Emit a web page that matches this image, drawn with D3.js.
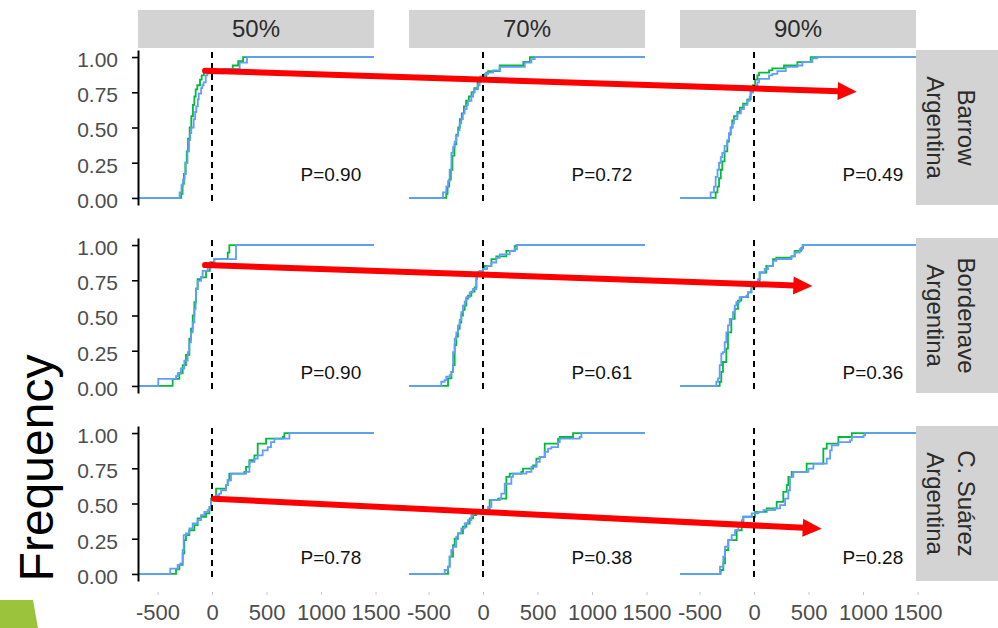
<!DOCTYPE html>
<html>
<head>
<meta charset="utf-8">
<script src="https://cdn.jsdelivr.net/npm/d3@7"></script>
<style>
  body { margin: 0; background: #fff; }
  svg { display: block; }
  text { font-family: "Liberation Sans", Arial, sans-serif; }
</style>
</head>
<body>
<svg id="chart" width="998" height="628"></svg>
<script>
// Facet labels
const thresholds = ["50%", "70%", "90%"];
const sites = [["Barrow", "Argentina"], ["Bordenave", "Argentina"], ["C. Suárez", "Argentina"]];

// Test p-values per site (rows) and threshold (columns)
const pValues = [[0.90, 0.72, 0.49], [0.90, 0.61, 0.36], [0.78, 0.38, 0.28]];
const pLabelX = 1090;
const pLabelY = [0.17, 0.10, 0.117];

// Axes
const xTicks = [-500, 0, 500, 1000, 1500];
const yTicks = [0, 0.25, 0.5, 0.75, 1];
const xDomain = [-679, 1486];

// ECDF step points [value, cumulative frequency], one list per threshold
const barrowGreen = [
  [[-282,0.03],[-270,0.1],[-258,0.17],[-245,0.25],[-232,0.33],[-220,0.42],[-205,0.5],[-190,0.58],[-175,0.66],[-162,0.72],[-150,0.77],[-135,0.8],[-110,0.84],[-95,0.87],[-75,0.9],[190,0.94],[240,0.97],[285,1]],
  [[-337,0.03],[-325,0.08],[-310,0.13],[-295,0.2],[-280,0.3],[-262,0.38],[-245,0.45],[-228,0.5],[-212,0.56],[-195,0.6],[-175,0.65],[-155,0.69],[-130,0.72],[-105,0.75],[-80,0.78],[-50,0.82],[-25,0.86],[30,0.89],[46,0.9],[153,0.94],[370,0.965],[430,1]],
  [[-352,0.04],[-335,0.08],[-321,0.14],[-305,0.2],[-291,0.26],[-270,0.33],[-245,0.4],[-230,0.45],[-214,0.5],[-200,0.55],[-184,0.58],[-153,0.61],[-130,0.64],[-100,0.67],[-61,0.7],[-31,0.75],[-10,0.8],[10,0.84],[31,0.87],[46,0.89],[138,0.905],[168,0.92],[275,0.94],[398,0.964],[520,1]]
];
const barrowBlue = [
  [[-297,0.04],[-280,0.09],[-266,0.13],[-251,0.17],[-240,0.25],[-225,0.33],[-211,0.41],[-200,0.46],[-190,0.5],[-168,0.56],[-155,0.61],[-144,0.65],[-130,0.7],[-122,0.74],[-100,0.78],[-89,0.8],[-77,0.82],[-58,0.87],[-43,0.885],[101,0.915],[254,0.96],[321,1]],
  [[-367,0.04],[-337,0.08],[-321,0.12],[-306,0.2],[-290,0.32],[-275,0.36],[-260,0.4],[-245,0.44],[-230,0.48],[-215,0.53],[-199,0.56],[-185,0.6],[-168,0.63],[-150,0.66],[-138,0.69],[-107,0.72],[-90,0.75],[-77,0.77],[-46,0.8],[-31,0.83],[-15,0.856],[15,0.88],[46,0.89],[92,0.905],[153,0.93],[383,0.96],[444,0.985],[474,1]],
  [[-398,0.04],[-367,0.08],[-352,0.15],[-335,0.2],[-321,0.25],[-305,0.29],[-291,0.32],[-270,0.37],[-245,0.41],[-230,0.46],[-214,0.5],[-195,0.53],[-184,0.56],[-153,0.6],[-120,0.63],[-92,0.66],[-61,0.69],[-40,0.72],[-31,0.75],[-10,0.77],[15,0.8],[31,0.82],[46,0.845],[138,0.87],[168,0.88],[214,0.9],[291,0.93],[398,0.94],[444,0.965],[535,0.99],[581,1]]
];
const bordenaveGreen = [
  [[-361,0.05],[-300,0.09],[-269,0.148],[-239,0.22],[-208,0.335],[-193,0.406],[-177,0.5],[-162,0.594],[-147,0.69],[-132,0.758],[-101,0.77],[-55,0.817],[-20,0.876],[21,0.9],[144,0.946],[159,1]],
  [[-321,0.054],[-290,0.1],[-275,0.148],[-260,0.29],[-245,0.35],[-230,0.406],[-214,0.45],[-199,0.5],[-184,0.54],[-168,0.57],[-153,0.62],[-138,0.64],[-107,0.67],[-77,0.7],[-61,0.78],[-46,0.805],[0,0.84],[15,0.852],[77,0.9],[122,0.92],[214,0.958],[291,0.993],[306,1]],
  [[-315,0.03],[-300,0.1],[-285,0.17],[-254,0.265],[-239,0.38],[-208,0.476],[-177,0.547],[-147,0.606],[-116,0.63],[-55,0.664],[-24,0.7],[6,0.735],[52,0.805],[113,0.852],[174,0.9],[205,0.91],[343,0.92],[373,0.958],[434,0.98],[450,1]]
];
const bordenaveBlue = [
  [[-493,0.05],[-330,0.07],[-315,0.09],[-285,0.124],[-254,0.18],[-223,0.24],[-208,0.31],[-193,0.38],[-177,0.45],[-162,0.547],[-150,0.6],[-147,0.69],[-132,0.746],[-101,0.77],[-86,0.817],[-40,0.84],[-9,0.876],[21,0.9],[220,1]],
  [[-383,0.03],[-352,0.042],[-337,0.066],[-306,0.077],[-291,0.1],[-275,0.24],[-260,0.336],[-245,0.38],[-230,0.43],[-214,0.47],[-199,0.523],[-184,0.57],[-168,0.6],[-153,0.63],[-122,0.664],[-92,0.688],[-61,0.758],[-55,0.805],[-31,0.817],[0,0.829],[37,0.852],[77,0.876],[122,0.91],[153,0.934],[245,0.958],[291,0.97],[312,1]],
  [[-346,0.03],[-330,0.054],[-315,0.148],[-300,0.23],[-285,0.24],[-269,0.31],[-254,0.38],[-239,0.43],[-223,0.476],[-193,0.523],[-177,0.57],[-162,0.594],[-132,0.63],[-70,0.64],[-55,0.664],[-24,0.71],[6,0.735],[37,0.758],[52,0.805],[98,0.83],[128,0.852],[174,0.887],[205,0.9],[343,0.92],[373,0.946],[419,0.97],[444,1]]
];
const suarezGreen = [
  [[-330,0.033],[-300,0.064],[-269,0.146],[-254,0.24],[-239,0.276],[-208,0.31],[-162,0.347],[-132,0.394],[-101,0.406],[-55,0.43],[-24,0.465],[-9,0.535],[37,0.606],[128,0.63],[144,0.665],[159,0.712],[297,0.724],[312,0.76],[343,0.807],[389,0.842],[419,0.925],[496,0.96],[649,0.972],[664,1]],
  [[-321,0.052],[-306,0.123],[-275,0.205],[-260,0.25],[-230,0.288],[-184,0.335],[-153,0.358],[-122,0.394],[-92,0.417],[-61,0.453],[61,0.524],[138,0.535],[214,0.689],[245,0.712],[352,0.724],[367,0.748],[459,0.77],[490,0.818],[520,0.83],[566,0.925],[689,0.96],[704,0.972],[826,1]],
  [[-306,0.028],[-282,0.075],[-266,0.17],[-236,0.24],[-159,0.31],[-113,0.358],[-98,0.406],[9,0.44],[116,0.465],[208,0.512],[269,0.583],[300,0.63],[315,0.689],[346,0.724],[483,0.783],[636,0.889],[667,0.925],[774,0.972],[897,1]]
];
const suarezBlue = [
  [[-383,0.038],[-315,0.064],[-291,0.075],[-269,0.17],[-260,0.276],[-239,0.288],[-208,0.323],[-177,0.358],[-132,0.382],[-101,0.417],[-70,0.44],[-40,0.453],[-24,0.476],[-9,0.524],[6,0.535],[37,0.56],[67,0.57],[83,0.594],[128,0.63],[144,0.665],[174,0.712],[312,0.724],[343,0.795],[389,0.818],[419,0.842],[465,0.877],[511,0.9],[541,0.936],[572,0.96],[710,1]],
  [[-352,0.028],[-321,0.052],[-306,0.123],[-291,0.17],[-275,0.193],[-245,0.264],[-230,0.288],[-199,0.323],[-168,0.358],[-138,0.382],[-107,0.417],[-92,0.453],[46,0.476],[77,0.524],[153,0.535],[168,0.57],[199,0.64],[260,0.689],[275,0.712],[398,0.724],[444,0.76],[490,0.795],[520,0.83],[566,0.866],[597,0.889],[627,0.9],[689,0.936],[704,0.96],[887,0.972],[903,1]],
  [[-312,0.052],[-282,0.123],[-266,0.193],[-236,0.24],[-205,0.276],[-174,0.31],[-144,0.347],[-113,0.382],[-98,0.406],[-21,0.43],[40,0.44],[86,0.453],[193,0.465],[239,0.488],[285,0.535],[315,0.594],[330,0.689],[361,0.724],[499,0.748],[545,0.783],[667,0.818],[698,0.877],[713,0.913],[774,0.936],[881,0.948],[897,0.972],[1004,0.983],[1019,1]]
];
const greenSeries = [barrowGreen, bordenaveGreen, suarezGreen];
const blueSeries = [barrowBlue, bordenaveBlue, suarezBlue];

// Trend arrows: start in the 50% panel, tip in the 90% panel, [value, frequency]
const arrowFrom = [[-64, 0.903], [-64, 0.858], [18, 0.534]];
const arrowTo = [[942, 0.754], [535, 0.709], [621, 0.321]];

// Layout
const colLeft = [138, 409, 680];
const rowTop = [50, 238, 426];
const panelW = 236, panelH = 155;
const green = "#00BA38", blue = "#619CFF";

const svg = d3.select("#chart");

// slide corner accent
svg.append("path")
  .attr("d", "M0,600 L33,600 L38,628 L0,628 Z")
  .attr("fill", "#9cc33c");

const xScales = colLeft.map(l => d3.scaleLinear().domain(xDomain).range([l, l + panelW]));
const yScales = rowTop.map(t => d3.scaleLinear().domain([-0.05, 1.05]).range([t + panelH, t]));

// column strips
thresholds.forEach((lab, c) => {
  svg.append("rect").attr("x", colLeft[c]).attr("y", 10).attr("width", panelW).attr("height", 38)
    .attr("fill", "#d3d3d3");
  svg.append("text").attr("x", colLeft[c] + panelW / 2).attr("y", 29).attr("dy", "0.35em")
    .attr("text-anchor", "middle").attr("font-size", 24).attr("fill", "#2b2b2b").text(lab);
});

// row strips
sites.forEach((lines, r) => {
  const x0 = colLeft[2] + panelW;
  svg.append("rect").attr("x", x0).attr("y", rowTop[r]).attr("width", 998 - x0).attr("height", panelH)
    .attr("fill", "#d3d3d3");
  const g = svg.append("g").attr("transform", `translate(951,${rowTop[r] + panelH / 2}) rotate(90)`);
  lines.forEach((t, i) => {
    g.append("text").attr("x", 0).attr("y", (i - 0.5) * 31).attr("dy", "0.35em")
      .attr("text-anchor", "middle").attr("font-size", 24).attr("fill", "#2b2b2b").text(t);
  });
});

// panels
rowTop.forEach((_, r) => {
  colLeft.forEach((_, c) => {
    const x = xScales[c], y = yScales[r];
    const line = d3.line().x(d => x(d[0])).y(d => y(d[1])).curve(d3.curveStepAfter);
    const ecdf = steps => [[xDomain[0], 0], ...steps, [xDomain[1], steps[steps.length - 1][1]]];

    svg.append("path").datum(ecdf(greenSeries[r][c])).attr("d", line)
      .attr("fill", "none").attr("stroke", green).attr("stroke-width", 1.8);
    svg.append("path").datum(ecdf(blueSeries[r][c])).attr("d", line)
      .attr("fill", "none").attr("stroke", blue).attr("stroke-width", 1.8);

    // reference line at zero
    svg.append("line").attr("x1", x(0)).attr("x2", x(0))
      .attr("y1", rowTop[r] + 2).attr("y2", rowTop[r] + panelH)
      .attr("stroke", "#000").attr("stroke-width", 2).attr("stroke-dasharray", "6,5");

    // y axis only on the first column
    if (c === 0) {
      const ya = svg.append("g").attr("transform", `translate(${colLeft[c]},0)`)
        .call(d3.axisLeft(y).tickValues(yTicks).tickFormat(d3.format(".2f"))
          .tickSize(6).tickSizeOuter(0).tickPadding(14));
      ya.select(".domain").attr("stroke", "#000").attr("stroke-width", 2);
      ya.selectAll(".tick line").attr("stroke", "#000").attr("stroke-width", 1.6);
      ya.selectAll(".tick text").attr("font-size", 21).attr("fill", "#4d4d4d").attr("dy", "0.45em")
        .attr("font-family", "Liberation Sans, Arial, sans-serif");
    }

    // p-value label
    svg.append("text").attr("x", x(pLabelX)).attr("y", y(pLabelY[r])).attr("dy", "0.35em")
      .attr("text-anchor", "middle").attr("font-size", 19).attr("fill", "#111")
      .text("P=" + pValues[r][c].toFixed(2));
  });
});

// x axes under the bottom row
colLeft.forEach((_, c) => {
  const xa = svg.append("g").attr("transform", "translate(0,592)")
    .call(d3.axisBottom(xScales[c]).tickValues(xTicks).tickFormat(d => String(d))
      .tickSize(3).tickPadding(9));
  xa.select(".domain").remove();
  xa.selectAll(".tick line").attr("stroke", "#c8c8c8");
  xa.selectAll(".tick text").attr("font-size", 22).attr("fill", "#4d4d4d")
    .attr("font-family", "Liberation Sans, Arial, sans-serif");
});

// y title
svg.append("text").attr("transform", "translate(53,468) rotate(-90)")
  .attr("text-anchor", "middle").attr("font-size", 48).attr("fill", "#000").text("Frequency");

// trend arrows across thresholds
arrowFrom.forEach((s, r) => {
  const x1 = xScales[0](s[0]), y1 = yScales[r](s[1]);
  const x2 = xScales[2](arrowTo[r][0]), y2 = yScales[r](arrowTo[r][1]);
  const ang = Math.atan2(y2 - y1, x2 - x1);
  const headL = 19, headW = 9;
  const bx = x2 - headL * Math.cos(ang), by = y2 - headL * Math.sin(ang);
  svg.append("line").attr("x1", x1).attr("y1", y1).attr("x2", bx + Math.cos(ang)).attr("y2", by + Math.sin(ang))
    .attr("stroke", "#ff0000").attr("stroke-width", 6).attr("stroke-linecap", "round");
  const px = -Math.sin(ang), py = Math.cos(ang);
  svg.append("path")
    .attr("d", `M${x2},${y2} L${bx + px * headW},${by + py * headW} L${bx - px * headW},${by - py * headW} Z`)
    .attr("fill", "#ff0000");
});
</script>
</body>
</html>
